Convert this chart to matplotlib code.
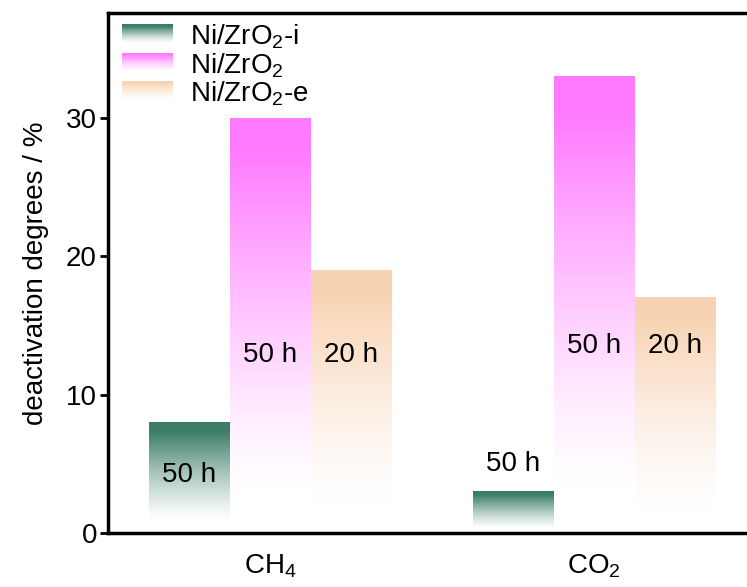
import numpy as np
import matplotlib.pyplot as plt
from matplotlib.legend_handler import HandlerBase
from matplotlib.patches import Rectangle, Patch
from matplotlib.colors import to_rgb

plt.rcParams['font.family'] = ['Liberation Sans', 'DejaVu Sans']
plt.rcParams['mathtext.fontset'] = 'custom'
plt.rcParams['mathtext.rm'] = 'Liberation Sans'
plt.rcParams['mathtext.it'] = 'Liberation Sans'

# data
categories = ["CH$_4$", "CO$_2$"]
series = ["Ni/ZrO$_2$-i", "Ni/ZrO$_2$", "Ni/ZrO$_2$-e"]
values = [[8, 3], [30, 33], [19, 17]]
hours = [["50 h", "50 h"], ["50 h", "50 h"], ["20 h", "20 h"]]
hours_y = [[4.2, 5.0], [12.9, 13.5], [12.9, 13.5]]
colors = ["#3b7d66", "#ff7aff", "#f8d3b3"]


def fade(t):
    # t = 0 at the top of the bar, 1 at the bottom
    a = np.clip(1 - (t - 0.08) / 0.82, 0, 1)
    return a ** 1.3


def gradient(color, n=256):
    t = np.linspace(0, 1, n)
    a = fade(t)[:, None]
    rgb = np.array(to_rgb(color))
    img = a * rgb + (1 - a) * 1.0
    return img[:, None, :]


class GradientHandler(HandlerBase):
    def create_artists(self, legend, orig_handle, xdescent, ydescent,
                       width, height, fontsize, trans):
        rgb = np.array(to_rgb(orig_handle.get_facecolor()))
        n = 30
        out = []
        for k in range(n):
            a = fade(k / (n - 1))
            col = a * rgb + (1 - a)
            y = -ydescent + height * (1 - (k + 1) / n)
            out.append(Rectangle((-xdescent, y), width, height / n * 1.6,
                                 facecolor=col, edgecolor='none',
                                 linewidth=0, transform=trans))
        return out


fig = plt.figure(figsize=(7.47, 5.87), dpi=100)
ax = fig.add_axes([108 / 747, 54 / 587, 648 / 747, 520 / 587])

x = np.arange(len(categories))
width = 0.25
for i in range(len(series)):
    pos = x + (i - 1) * width
    bars = ax.bar(pos, values[i], width, color='none', edgecolor='none')
    for j, b in enumerate(bars):
        ax.imshow(gradient(colors[i]), extent=[b.get_x(), b.get_x() + b.get_width(), 0, b.get_height()],
                  aspect='auto', origin='upper', interpolation='bilinear', zorder=1)
        ax.text(pos[j], hours_y[i][j], hours[i][j], ha='center', va='center',
                fontsize=20, zorder=3)

ax.set_xlim(-0.5, 1.5)
ax.set_ylim(0, 37.6)
ax.set_xticks(x)
ax.set_xticklabels(categories, fontsize=20)
ax.set_yticks([0, 10, 20, 30])
ax.tick_params(axis='y', labelsize=20, length=6, width=2, direction='out', pad=2)
ax.tick_params(axis='x', length=0, pad=14)
ax.set_ylabel("deactivation degrees / %", fontsize=20, labelpad=12)
for s in ax.spines.values():
    s.set_linewidth(2.5)

handles = [Patch(facecolor=c) for c in colors]
ax.legend(handles, series, loc='upper left', bbox_to_anchor=(0.0, 1.008),
          frameon=False, fontsize=20, handler_map={Patch: GradientHandler()},
          handlelength=1.85, handleheight=0.8, handletextpad=0.6,
          labelspacing=0.0, borderaxespad=0.3, borderpad=0.2)

fig.savefig("out.png", dpi=100)
